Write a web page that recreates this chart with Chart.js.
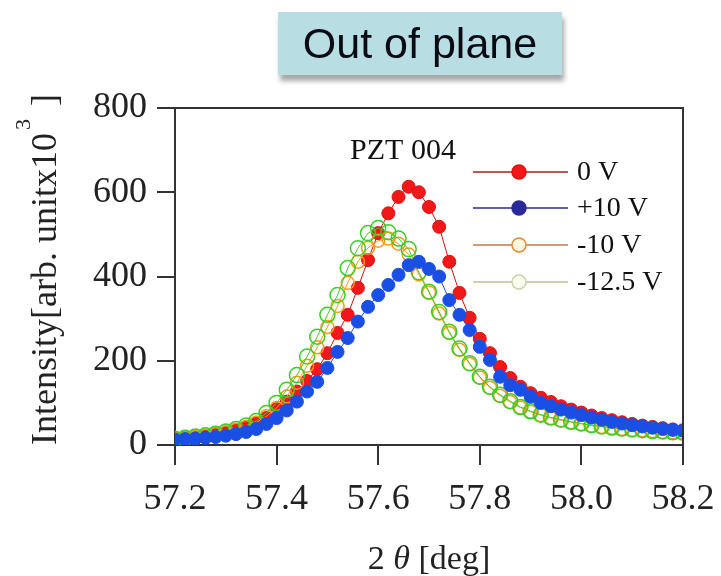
<!DOCTYPE html>
<html>
<head>
<meta charset="utf-8">
<script src="https://cdn.jsdelivr.net/npm/chart.js@4/dist/chart.umd.min.js"></script>
<style>
  html, body { margin: 0; padding: 0; background: #fff; }
  #wrap { position: relative; width: 721px; height: 576px; }
  #title {
    position: absolute; left: 278px; top: 12px; width: 284px; height: 63px;
    background: #b8dde2; box-shadow: 2px 6px 5px rgba(0,0,0,0.35);
    font-family: 'Liberation Sans', Arial, sans-serif; font-size: 43px; color: #0a0a14;
    display: flex; align-items: center; justify-content: center; z-index: 2;
  }
</style>
</head>
<body>
<div id="wrap">
  <div id="title">Out of plane</div>
  <canvas id="c" width="721" height="576"></canvas>
</div>
<script>
// 2θ values (deg)
const twoTheta = [57.20,57.22,57.24,57.26,57.28,57.30,57.32,57.34,57.36,57.38,
  57.40,57.42,57.44,57.46,57.48,57.50,57.52,57.54,57.56,57.58,
  57.60,57.62,57.64,57.66,57.68,57.70,57.72,57.74,57.76,57.78,
  57.80,57.82,57.84,57.86,57.88,57.90,57.92,57.94,57.96,57.98,
  58.00,58.02,58.04,58.06,58.08,58.10,58.12,58.14,58.16,58.18,58.20];

const seriesLabels = ['0 V', '+10 V', '-10 V', '-12.5 V'];

const v0 = [15,17,19,22,26,30,36,43,52,64,
  85,103,127,152,180,218,266,309,373,439,
  503,550,589,613,600,565,518,435,361,302,
  252,218,185,159,138,123,112,102,92,84,
  77,70,64,59,54,50,46,43,40,37,35];

const vPlus10 = [13,14,15,17,19,22,26,31,38,50,
  64,82,103,127,150,183,221,254,293,328,
  356,380,404,427,435,418,400,344,309,273,
  233,202,162,142,131,115,100,92,84,77,
  71,65,60,55,51,47,44,41,38,36,34];

const vMinus10 = [14,16,19,22,26,30,36,43,53,68,
  88,115,148,188,232,280,330,385,435,468,
  485,490,478,452,405,362,312,266,226,192,
  160,136,117,102,89,79,71,64,59,54,
  50,46,43,41,38,36,35,33,31,30,29];

const vMinus125 = [15,17,20,23,27,32,38,46,57,76,
  100,131,166,210,257,309,356,420,467,503,
  515,505,490,465,410,364,316,269,229,194,
  162,138,119,104,90,80,72,65,60,55,
  51,47,44,41,39,37,35,33,32,30,29];

const xTicksMin = 57.2, xTicksMax = 58.2, xStep = 0.2;
const yTicksMin = 0, yTicksMax = 800, yStep = 200;

const toPts = arr => arr.map((v, i) => ({ x: twoTheta[i], y: v }));

const SERIF = "'Liberation Serif', 'Times New Roman', serif";
Chart.defaults.font.family = SERIF;

const styles = [
  { line: '#d01010', pFill: '#f01818', pStroke: '#e01010', r: 6.5, lw: 1,   order: 3,
    legLine: '#b01c1c', legFill: '#f01818', legStroke: '#e01010' },
  { line: '#1a4fe0', pFill: '#1a4fe6', pStroke: '#1a4fe6', r: 6.5, lw: 1,   order: 0,
    legLine: '#2a2a88', legFill: '#2a2a99', legStroke: '#2a2a99' },
  { line: '#ff9a10', pFill: 'rgba(255,255,255,0)', pStroke: '#ff9a10', r: 6.5, lw: 1.5, order: 2,
    legLine: '#c07a48', legFill: '#fff6dc', legStroke: '#e0883a' },
  { line: '#3ccc2a', pFill: 'rgba(255,255,255,0)', pStroke: '#3ccc2a', r: 7.5, lw: 1.5, order: 1,
    legLine: '#c4bc90', legFill: '#fbfbf0', legStroke: '#c8d2a8' }
];
const dataArrays = [v0, vPlus10, vMinus10, vMinus125];

const datasets = dataArrays.map((arr, i) => ({
  label: seriesLabels[i],
  data: toPts(arr),
  showLine: true,
  borderColor: styles[i].line,
  borderWidth: 1,
  pointRadius: styles[i].r,
  pointBackgroundColor: styles[i].pFill,
  pointBorderColor: styles[i].pStroke,
  pointBorderWidth: styles[i].lw,
  tension: 0,
  order: styles[i].order
}));

const overlay = {
  id: 'overlay',
  afterDraw(chart) {
    const ctx = chart.ctx;
    const a = chart.chartArea;
    ctx.save();
    // top and right frame
    ctx.strokeStyle = '#333';
    ctx.lineWidth = 2;
    ctx.beginPath();
    ctx.moveTo(a.left, a.top);
    ctx.lineTo(a.right, a.top);
    ctx.lineTo(a.right, a.bottom);
    ctx.stroke();

    // annotation
    ctx.fillStyle = '#111';
    ctx.font = '30px ' + SERIF;
    ctx.textAlign = 'center';
    ctx.textBaseline = 'middle';
    ctx.fillText('PZT 004', 403, 151);

    // legend
    const rows = [172, 208, 245, 282];
    ctx.font = '28px ' + SERIF;
    ctx.textAlign = 'left';
    rows.forEach((y, i) => {
      const s = styles[i];
      ctx.strokeStyle = s.legLine;
      ctx.lineWidth = 1.5;
      ctx.beginPath();
      ctx.moveTo(473, y); ctx.lineTo(568, y);
      ctx.stroke();
      ctx.beginPath();
      ctx.arc(519, y, 7, 0, Math.PI * 2);
      ctx.fillStyle = s.legFill;
      ctx.fill();
      ctx.strokeStyle = s.legStroke;
      ctx.lineWidth = 1.5;
      ctx.stroke();
      ctx.fillStyle = '#111';
      ctx.fillText(seriesLabels[i], 577, y + 1);
    });

    // x axis title
    ctx.textBaseline = 'alphabetic';
    const cx = (a.left + a.right) / 2;
    const p1 = '2 ', p2 = 'θ', p3 = ' [deg]';
    ctx.font = '34px ' + SERIF;
    const w1 = ctx.measureText(p1).width, w3 = ctx.measureText(p3).width;
    ctx.font = 'italic 34px ' + SERIF;
    const w2 = ctx.measureText(p2).width;
    let x0 = cx - (w1 + w2 + w3) / 2;
    const by = 569;
    ctx.fillStyle = '#222';
    ctx.font = '34px ' + SERIF; ctx.fillText(p1, x0, by); x0 += w1;
    ctx.font = 'italic 34px ' + SERIF; ctx.fillText(p2, x0, by); x0 += w2;
    ctx.font = '34px ' + SERIF; ctx.fillText(p3, x0, by);

    // y axis title (rotated) with superscript
    ctx.translate(56, 271);
    ctx.rotate(-Math.PI / 2);
    const m = 'Intensity[arb. unitx10', sup = '3', end = ' ]';
    ctx.font = '36px ' + SERIF;
    const wm = ctx.measureText(m).width, we = ctx.measureText(end).width;
    ctx.font = '22px ' + SERIF;
    const ws = ctx.measureText(sup).width + 4;
    let t = -(wm + ws + we) / 2;
    ctx.font = '36px ' + SERIF; ctx.fillText(m, t, 0); t += wm + 3;
    ctx.font = '22px ' + SERIF; ctx.fillText(sup, t, -26); t += ws;
    ctx.font = '36px ' + SERIF; ctx.fillText(end, t, 0);
    ctx.restore();
  }
};

new Chart(document.getElementById('c'), {
  type: 'scatter',
  data: { datasets },
  options: {
    responsive: false,
    animation: false,
    layout: { padding: { top: 108, right: 38, left: 0, bottom: 0 } },
    plugins: { legend: { display: false }, tooltip: { enabled: false }, title: { display: false } },
    scales: {
      x: {
        type: 'linear', min: xTicksMin, max: xTicksMax,
        ticks: {
          stepSize: xStep, autoSkip: false, maxRotation: 0,
          callback: v => Number(v).toFixed(1),
          font: { family: SERIF, size: 36 }, color: '#222', padding: 13
        },
        grid: { drawOnChartArea: false, drawTicks: true, tickLength: 20, color: '#333', lineWidth: 2 },
        border: { display: true, color: '#333', width: 2 },
        afterFit: s => { s.height = 131; s.paddingRight = 0; s.paddingLeft = 0; }
      },
      y: {
        type: 'linear', min: yTicksMin, max: yTicksMax,
        ticks: {
          stepSize: yStep,
          font: { family: SERIF, size: 36 }, color: '#222', padding: 10
        },
        grid: { drawOnChartArea: false, drawTicks: true, tickLength: 18, color: '#333', lineWidth: 2 },
        border: { display: true, color: '#333', width: 2 },
        afterFit: s => { s.width = 175; s.paddingTop = 0; s.paddingBottom = 0; }
      }
    }
  },
  plugins: [overlay]
});
</script>
</body>
</html>
